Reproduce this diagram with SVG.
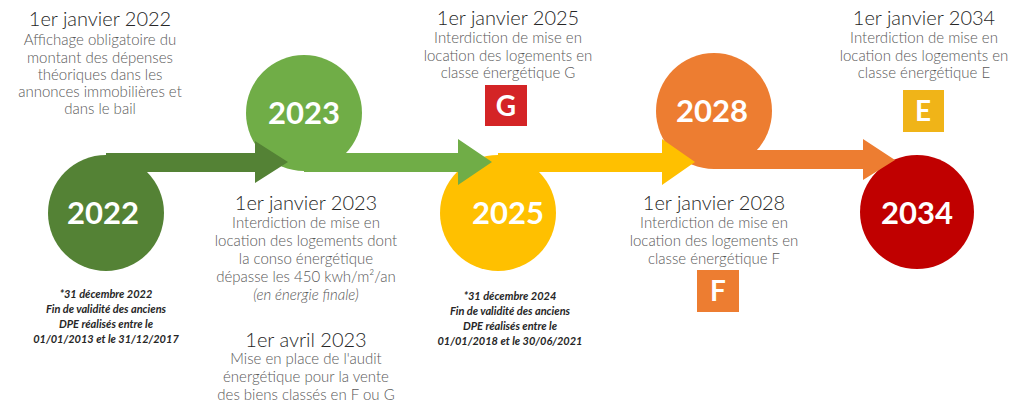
<svg xmlns="http://www.w3.org/2000/svg" width="1024" height="413" viewBox="0 0 1024 413">
<style>
.yr{font-family:Lato,"Open Sans",sans-serif;font-weight:bold;font-size:31px;fill:#fff;text-anchor:middle}
.t{font-family:Lato,"Open Sans",sans-serif;font-weight:300;font-size:20px;fill:#262626;text-anchor:middle}
.b{font-family:Lato,"Open Sans",sans-serif;font-weight:300;font-size:15px;fill:#595959;text-anchor:middle}
.f{font-family:Lato,"Open Sans",sans-serif;font-size:11px;font-style:italic;font-weight:bold;fill:#262626;text-anchor:middle}
.lt{font-family:Lato,"Open Sans",sans-serif;font-weight:bold;font-size:28px;fill:#fff;text-anchor:middle}
</style>
<rect width="1024" height="413" fill="#fff"/>
<g id="n2022"><circle cx="106" cy="213" r="58" fill="#548235"/><text class="yr" x="103" y="224">2022</text></g>
<g id="n2023"><circle cx="304" cy="113" r="58" fill="#70AD47"/><text class="yr" x="304" y="124">2023</text></g>
<g id="n2025"><circle cx="498" cy="213" r="58" fill="#FFC000"/><text class="yr" x="508" y="224">2025</text></g>
<g id="n2028"><circle cx="714" cy="111" r="58" fill="#ED7D31"/><text class="yr" x="712" y="122">2028</text></g>
<g id="n2034"><circle cx="917" cy="212" r="57" fill="#C00000"/><text class="yr" x="917" y="224">2034</text></g>
<g id="connectors">
<path d="M106 153 H255 V141 L288 162 L255 183 V172 H106 Z" fill="#548235"/>
<path d="M304 153 H458 V139 L492 162 L458 185 V172 H304 Z" fill="#70AD47"/>
<path d="M498 153 H662 V139 L695 162 L662 185 V172 H498 Z" fill="#FFC000"/>
<path d="M714 150 H863 V139 L895 160 L863 180 V169 H714 Z" fill="#ED7D31"/>
</g>
<g id="boxG"><rect x="485" y="85" width="42" height="41" fill="#D42426"/><text class="lt" x="506" y="116">G</text></g>
<g id="boxF"><rect x="697" y="270" width="42" height="42" fill="#ED7D31"/><text class="lt" x="718" y="301">F</text></g>
<g id="boxE"><rect x="903" y="90" width="41" height="42" fill="#F0B418"/><text class="lt" x="923" y="121">E</text></g>
<g id="txt2022">
<text class="t" x="100" y="26">1er janvier 2022</text>
<text class="b" x="100" y="45">Affichage obligatoire du</text>
<text class="b" x="100" y="63">montant des dépenses</text>
<text class="b" x="100" y="80">théoriques dans les</text>
<text class="b" x="100" y="97">annonces immobilières et</text>
<text class="b" x="100" y="114">dans le bail</text>
</g>
<g id="txt2025">
<text class="t" x="508" y="25">1er janvier 2025</text>
<text class="b" x="508" y="43">Interdiction de mise en</text>
<text class="b" x="508" y="61">location des logements en</text>
<text class="b" x="508" y="78">classe énergétique G</text>
</g>
<g id="txt2034">
<text class="t" x="924" y="25">1er janvier 2034</text>
<text class="b" x="924" y="43">Interdiction de mise en</text>
<text class="b" x="924" y="61">location des logements en</text>
<text class="b" x="924" y="78">classe énergétique E</text>
</g>
<g id="txt2023">
<text class="t" x="306" y="210">1er janvier 2023</text>
<text class="b" x="306" y="228">Interdiction de mise en</text>
<text class="b" x="306" y="246">location des logements dont</text>
<text class="b" x="306" y="264">la conso énergétique</text>
<text class="b" x="306" y="282">dépasse les 450 kwh/m²/an</text>
<text class="b" x="306" y="300" font-style="italic">(en énergie finale)</text>
</g>
<g id="txtAvril">
<text class="t" x="306" y="347">1er avril 2023</text>
<text class="b" x="306" y="364">Mise en place de l'audit</text>
<text class="b" x="306" y="382">énergétique pour la vente</text>
<text class="b" x="306" y="400">des biens classés en F ou G</text>
</g>
<g id="txt2028">
<text class="t" x="714" y="210">1er janvier 2028</text>
<text class="b" x="714" y="228">Interdiction de mise en</text>
<text class="b" x="714" y="246">location des logements en</text>
<text class="b" x="714" y="264">classe énergétique F</text>
</g>
<g id="note2022">
<text class="f" x="106" y="298">*31 décembre 2022</text>
<text class="f" x="106" y="313">Fin de validité des anciens</text>
<text class="f" x="106" y="328">DPE réalisés entre le</text>
<text class="f" x="106" y="343">01/01/2013 et le 31/12/2017</text>
</g>
<g id="note2024">
<text class="f" x="510" y="300">*31 décembre 2024</text>
<text class="f" x="510" y="315">Fin de validité des anciens</text>
<text class="f" x="510" y="330">DPE réalisés entre le</text>
<text class="f" x="510" y="345">01/01/2018 et le 30/06/2021</text>
</g>
</svg>
